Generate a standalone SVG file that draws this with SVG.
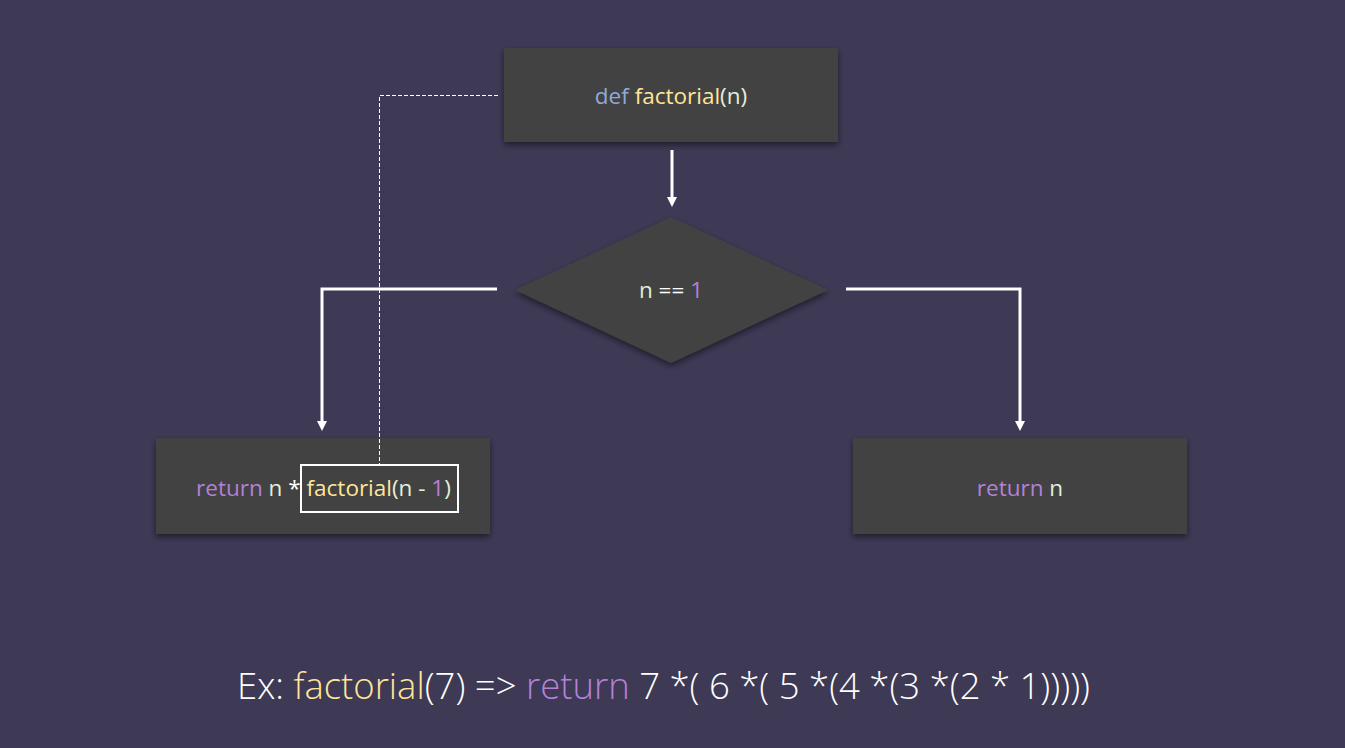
<svg xmlns="http://www.w3.org/2000/svg" width="1345" height="748" viewBox="0 0 1345 748">
<style>
.box{fill:#424242;filter:url(#sh)}
.t{font-family:"Open Sans","Liberation Sans",sans-serif;font-size:22.5px;text-anchor:middle}
.kw{fill:#b381d8}.fn{fill:#ffe699}.df{fill:#8eaadb}.v{fill:#e2efda}.w{fill:#ffffff}
.ln{fill:none;stroke:#ffffff;stroke-width:3}
</style>
<defs>
<filter id="sh" x="-10%" y="-20%" width="120%" height="140%">
<feGaussianBlur in="SourceAlpha" stdDeviation="3"/>
<feOffset dx="0" dy="3" result="b"/>
<feComponentTransfer><feFuncA type="linear" slope="0.5"/></feComponentTransfer>
<feMerge><feMergeNode/><feMergeNode in="SourceGraphic"/></feMerge>
</filter>
<marker id="ah" markerWidth="10" markerHeight="10" refX="5" refY="5" orient="auto" markerUnits="userSpaceOnUse">
<path d="M0,0 L10,5 L0,10 z" fill="#ffffff"/>
</marker>
</defs>
<rect width="1345" height="748" fill="#3e3955"/>
<g id="node-def">
<rect class="box" x="504" y="48" width="334" height="94"/>
<text class="t" x="671" y="104"><tspan class="df">def</tspan><tspan class="fn"> factorial</tspan><tspan class="v">(n)</tspan></text>
</g>
<g id="node-cond">
<polygon class="box" points="671,217 828,290 671,363 515,290"/>
<text class="t" x="671" y="298"><tspan class="v">n</tspan><tspan class="w"> == </tspan><tspan class="kw">1</tspan></text>
</g>
<g id="node-recurse">
<rect class="box" x="156" y="438" width="334" height="96"/>
<rect x="301" y="465" width="157" height="47" fill="none" stroke="#ffffff" stroke-width="2"/>
<text class="t" x="323.5" y="496"><tspan class="kw">return</tspan><tspan class="v"> n</tspan><tspan class="w"> * </tspan><tspan class="fn">factorial</tspan><tspan class="v">(n - </tspan><tspan class="kw">1</tspan><tspan class="v">)</tspan></text>
</g>
<g id="node-base">
<rect class="box" x="853" y="438" width="334" height="96"/>
<text class="t" x="1020" y="496"><tspan class="kw">return</tspan><tspan class="v"> n</tspan></text>
</g>
<g id="connectors">
<line class="ln" x1="672" y1="150" x2="672" y2="202" marker-end="url(#ah)"/>
<polyline class="ln" points="497,289 322,289 322,426" marker-end="url(#ah)"/>
<polyline class="ln" points="846,289 1020,289 1020,426" marker-end="url(#ah)"/>
<polyline points="498,95.5 379.5,95.5 379.5,465" fill="none" stroke="#ffffff" stroke-width="1" stroke-dasharray="4,2"/>
</g>
<g id="example">
<text x="237" y="699" font-family="'Open Sans',sans-serif" font-weight="300" font-size="37" textLength="853" lengthAdjust="spacingAndGlyphs"><tspan class="w">Ex: </tspan><tspan class="fn">factorial</tspan><tspan class="w">(7) =&gt; </tspan><tspan class="kw">return</tspan><tspan class="w"> 7 *( 6 *( 5 *(4 *(3 *(2 * 1)))))</tspan></text>
</g>
</svg>
